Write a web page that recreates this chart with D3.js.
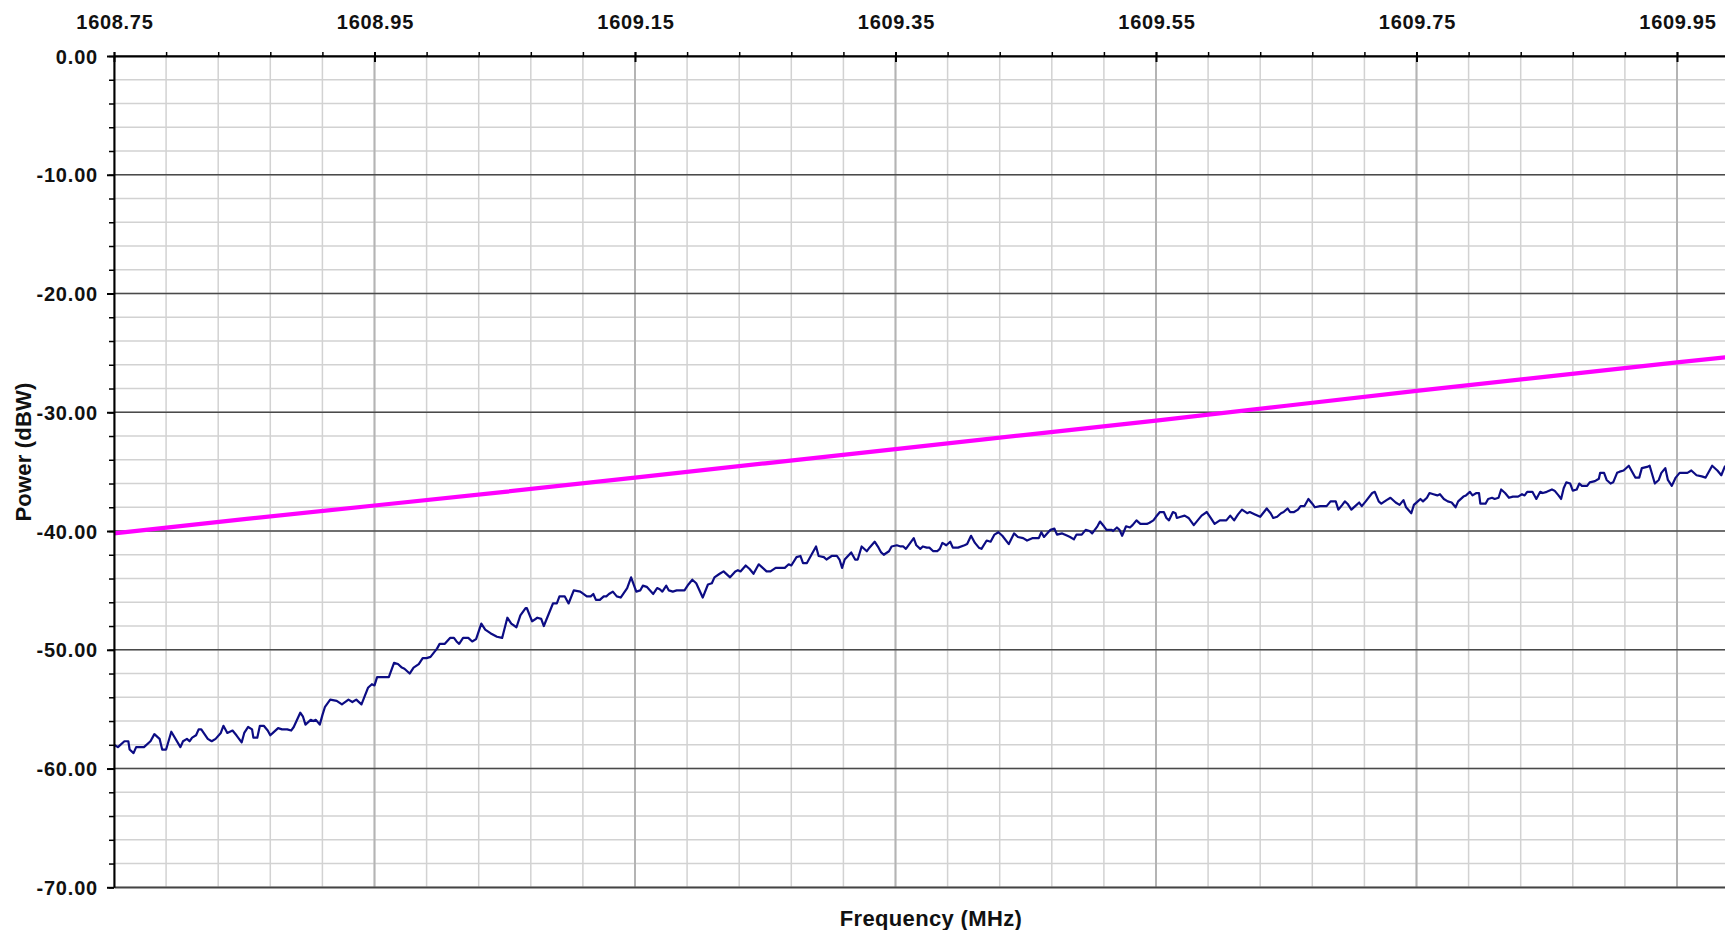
<!DOCTYPE html>
<html>
<head>
<meta charset="utf-8">
<script src="https://cdn.jsdelivr.net/npm/d3@7"></script>
<style>
  body { margin: 0; background: #fff; }
  svg text { font-family: "Liberation Sans", Arial, sans-serif; font-weight: bold; fill: #111; }
</style>
</head>
<body>
<div id="dataViz"></div>
<script>
//DATA
const xTickValues = [1608.75, 1608.95, 1609.15, 1609.35, 1609.55, 1609.75, 1609.95];
const xTickLabels = ["1608.75", "1608.95", "1609.15", "1609.35", "1609.55", "1609.75", "1609.95"];
const yTickValues = [0, -10, -20, -30, -40, -50, -60, -70];
const yTickLabels = ["0.00", "-10.00", "-20.00", "-30.00", "-40.00", "-50.00", "-60.00", "-70.00"];

// limit line (magenta), [MHz, dBW]
const limitPoints = [
  [1608.75, -40.2], [1608.85, -39.0], [1608.95, -37.85], [1609.05, -36.7],
  [1609.15, -35.5], [1609.25, -34.3], [1609.35, -33.1], [1609.45, -31.9],
  [1609.55, -30.7], [1609.65, -29.45], [1609.75, -28.2], [1609.85, -27.0],
  [1609.95, -25.8], [1609.99, -25.35]
];

// measured spectrum (navy), [MHz, dBW]
const tracePoints = [
  [1608.750, -58.0], [1608.753, -58.2], [1608.758, -57.7], [1608.761, -57.7], [1608.762, -58.4],
  [1608.765, -58.7], [1608.767, -58.2], [1608.773, -58.2], [1608.778, -57.7], [1608.781, -57.1],
  [1608.785, -57.5], [1608.787, -58.4], [1608.790, -58.4], [1608.794, -56.9], [1608.801, -58.2],
  [1608.803, -57.7], [1608.806, -57.5], [1608.808, -57.7], [1608.810, -57.4], [1608.813, -57.2],
  [1608.815, -56.7], [1608.817, -56.7], [1608.822, -57.5], [1608.825, -57.7], [1608.828, -57.5],
  [1608.832, -57.0], [1608.834, -56.4], [1608.837, -57.0], [1608.841, -56.8], [1608.844, -57.2],
  [1608.848, -57.8], [1608.850, -57.0], [1608.853, -56.5], [1608.856, -56.7], [1608.857, -57.4],
  [1608.860, -57.4], [1608.862, -56.4], [1608.865, -56.4], [1608.868, -56.8], [1608.870, -57.2],
  [1608.872, -57.0], [1608.876, -56.6], [1608.879, -56.7], [1608.883, -56.7], [1608.886, -56.8],
  [1608.888, -56.5], [1608.893, -55.3], [1608.895, -55.6], [1608.897, -56.3], [1608.901, -55.9],
  [1608.903, -56.0], [1608.905, -55.9], [1608.908, -56.3], [1608.910, -55.5], [1608.912, -54.8],
  [1608.916, -54.2], [1608.921, -54.3], [1608.925, -54.6], [1608.930, -54.2], [1608.933, -54.4],
  [1608.936, -54.2], [1608.940, -54.6], [1608.945, -53.2], [1608.948, -52.9], [1608.950, -53.0],
  [1608.952, -52.3], [1608.961, -52.3], [1608.965, -51.1], [1608.968, -51.2], [1608.971, -51.5],
  [1608.973, -51.6], [1608.977, -52.0], [1608.980, -51.5], [1608.984, -51.2], [1608.987, -50.7],
  [1608.990, -50.7], [1608.993, -50.6],
  [1608.998, -49.9], [1609.000, -49.5], [1609.004, -49.5], [1609.008, -49.0], [1609.011, -49.0],
  [1609.013, -49.3], [1609.015, -49.5], [1609.018, -49.0], [1609.022, -49.0], [1609.025, -49.3],
  [1609.028, -49.1], [1609.032, -47.8], [1609.035, -48.3], [1609.039, -48.6], [1609.044, -48.9],
  [1609.048, -49.0], [1609.052, -47.3], [1609.055, -47.8], [1609.059, -48.1], [1609.062, -47.1],
  [1609.066, -46.5], [1609.067, -46.5], [1609.071, -47.6], [1609.075, -47.3], [1609.078, -47.4],
  [1609.080, -48.0], [1609.087, -46.1], [1609.090, -46.1], [1609.092, -45.5], [1609.096, -45.5],
  [1609.099, -46.1], [1609.103, -45.0], [1609.108, -45.1], [1609.113, -45.5], [1609.116, -45.5],
  [1609.118, -45.3], [1609.120, -45.8], [1609.123, -45.8], [1609.126, -45.5], [1609.128, -45.5],
  [1609.130, -45.3], [1609.133, -45.1], [1609.136, -45.5], [1609.139, -45.6], [1609.144, -44.8],
  [1609.147, -43.9], [1609.151, -45.1], [1609.154, -45.0], [1609.156, -44.6], [1609.159, -44.7],
  [1609.164, -45.3], [1609.167, -44.8], [1609.169, -44.9], [1609.171, -45.1], [1609.174, -44.6],
  [1609.176, -45.0], [1609.179, -45.1], [1609.182, -45.0], [1609.188, -45.0], [1609.191, -44.5],
  [1609.194, -44.1], [1609.197, -44.4], [1609.202, -45.6], [1609.206, -44.5], [1609.209, -44.4],
  [1609.211, -43.9], [1609.215, -43.6], [1609.218, -43.4], [1609.223, -43.9], [1609.227, -43.4],
  [1609.229, -43.3], [1609.231, -43.4], [1609.235, -42.9], [1609.238, -43.2],
  [1609.241, -43.6], [1609.245, -42.8], [1609.247, -43.0], [1609.251, -43.4], [1609.254, -43.4],
  [1609.258, -43.1], [1609.265, -43.1], [1609.268, -42.8], [1609.270, -42.9], [1609.274, -42.2],
  [1609.277, -42.1], [1609.279, -42.7], [1609.282, -42.7], [1609.286, -41.9], [1609.289, -41.3],
  [1609.291, -42.1], [1609.295, -42.2], [1609.297, -42.4], [1609.301, -42.1], [1609.305, -42.1],
  [1609.307, -42.4], [1609.309, -43.1], [1609.311, -42.4], [1609.316, -41.8], [1609.319, -42.4],
  [1609.321, -42.4], [1609.324, -41.3], [1609.328, -41.7], [1609.330, -41.4], [1609.334, -40.9],
  [1609.337, -41.4], [1609.339, -41.8], [1609.341, -42.0], [1609.345, -41.7], [1609.347, -41.3],
  [1609.351, -41.2], [1609.354, -41.3], [1609.356, -41.3], [1609.358, -41.5], [1609.364, -40.6],
  [1609.366, -41.2], [1609.369, -41.5], [1609.371, -41.3], [1609.374, -41.4], [1609.376, -41.4],
  [1609.379, -41.7], [1609.382, -41.7], [1609.384, -41.5], [1609.386, -41.0], [1609.389, -41.2],
  [1609.392, -40.9], [1609.394, -41.4], [1609.398, -41.4], [1609.403, -41.2], [1609.405, -41.1],
  [1609.408, -40.4], [1609.411, -41.0], [1609.414, -41.4], [1609.416, -41.5], [1609.420, -40.8],
  [1609.423, -40.9], [1609.426, -40.3], [1609.429, -40.1], [1609.432, -40.4], [1609.437, -41.1],
  [1609.441, -40.2], [1609.444, -40.5], [1609.448, -40.6], [1609.451, -40.8], [1609.455, -40.6],
  [1609.460, -40.6], [1609.462, -40.1], [1609.464, -40.5], [1609.469, -39.9], [1609.472, -39.8],
  [1609.474, -40.3], [1609.478, -40.2], [1609.482, -40.4], [1609.484, -40.5],
  [1609.487, -40.7], [1609.489, -40.3], [1609.493, -40.3], [1609.496, -39.9], [1609.499, -40.0],
  [1609.501, -40.2], [1609.505, -39.6], [1609.507, -39.2], [1609.510, -39.6], [1609.512, -39.9],
  [1609.516, -39.9], [1609.517, -40.0], [1609.520, -39.7], [1609.522, -39.9], [1609.524, -40.4],
  [1609.527, -39.6], [1609.530, -39.7], [1609.532, -39.5], [1609.535, -39.1], [1609.538, -39.4],
  [1609.540, -39.4], [1609.543, -39.4], [1609.545, -39.3], [1609.548, -39.1], [1609.550, -38.8],
  [1609.553, -38.4], [1609.556, -38.4], [1609.558, -38.9], [1609.560, -39.1], [1609.563, -38.4],
  [1609.565, -38.5], [1609.566, -38.9], [1609.569, -38.8], [1609.572, -38.7], [1609.575, -38.9],
  [1609.579, -39.5], [1609.582, -39.1], [1609.585, -38.7], [1609.589, -38.4], [1609.592, -38.9],
  [1609.595, -39.4], [1609.599, -39.1], [1609.604, -39.1], [1609.607, -38.7], [1609.610, -39.1],
  [1609.613, -38.6], [1609.616, -38.2], [1609.620, -38.5], [1609.622, -38.4], [1609.626, -38.6],
  [1609.630, -38.8], [1609.635, -38.1], [1609.638, -38.5], [1609.640, -38.9], [1609.643, -38.8],
  [1609.646, -38.5], [1609.648, -38.4], [1609.651, -38.1], [1609.653, -38.4], [1609.656, -38.4],
  [1609.659, -38.2], [1609.661, -37.9], [1609.664, -37.9], [1609.667, -37.3], [1609.670, -37.7],
  [1609.672, -38.0], [1609.676, -37.9], [1609.681, -37.9], [1609.684, -37.5], [1609.688, -37.5],
  [1609.690, -38.2], [1609.693, -37.8], [1609.695, -37.5], [1609.697, -37.7], [1609.700, -38.2],
  [1609.704, -37.8], [1609.706, -37.6], [1609.708, -37.9], [1609.711, -37.5], [1609.716, -36.8],
  [1609.718, -36.7], [1609.721, -37.5], [1609.723, -37.7], [1609.727, -37.4], [1609.730, -37.2],
  [1609.734, -37.6], [1609.737, -37.8],
  [1609.740, -37.4], [1609.742, -38.0], [1609.746, -38.5], [1609.748, -37.8], [1609.751, -37.5],
  [1609.753, -37.3], [1609.755, -37.5], [1609.758, -37.2], [1609.760, -36.8], [1609.763, -36.9],
  [1609.766, -37.0], [1609.768, -36.9], [1609.771, -37.3], [1609.774, -37.5], [1609.777, -37.6],
  [1609.780, -38.0], [1609.782, -37.5], [1609.786, -37.1], [1609.788, -37.0], [1609.791, -36.7],
  [1609.793, -37.0], [1609.796, -36.8], [1609.798, -36.8], [1609.799, -37.7], [1609.803, -37.7],
  [1609.805, -37.3], [1609.808, -37.2], [1609.810, -37.3], [1609.813, -37.2], [1609.815, -36.5],
  [1609.818, -36.8], [1609.821, -37.2], [1609.824, -37.1], [1609.828, -37.1], [1609.831, -36.9],
  [1609.833, -37.0], [1609.835, -36.7], [1609.839, -36.7], [1609.842, -37.3], [1609.845, -36.7],
  [1609.847, -36.8], [1609.850, -36.7], [1609.854, -36.5], [1609.856, -36.6], [1609.859, -37.0],
  [1609.861, -37.3], [1609.863, -36.4], [1609.865, -35.9], [1609.868, -36.0], [1609.870, -36.6],
  [1609.873, -36.5], [1609.875, -36.0], [1609.877, -36.2], [1609.881, -36.2], [1609.883, -35.9],
  [1609.887, -35.8], [1609.890, -35.6], [1609.891, -35.1], [1609.894, -35.1], [1609.896, -35.7],
  [1609.899, -36.0], [1609.901, -35.9], [1609.904, -35.1], [1609.906, -35.0], [1609.909, -34.9],
  [1609.913, -34.5], [1609.915, -34.9], [1609.918, -35.5], [1609.921, -35.5], [1609.923, -34.7],
  [1609.927, -34.6], [1609.929, -34.5], [1609.933, -36.0], [1609.936, -35.7], [1609.938, -35.1],
  [1609.941, -34.7], [1609.943, -35.7], [1609.946, -36.2], [1609.949, -35.5], [1609.952, -35.1],
  [1609.956, -35.1], [1609.958, -35.1], [1609.961, -34.9], [1609.965, -35.3], [1609.969, -35.4],
  [1609.972, -35.5], [1609.977, -34.5], [1609.981, -34.9], [1609.984, -35.3], [1609.987, -34.5]
];

//DIMENSIONS
let WIDTH = 1725,
  HEIGHT = 930,
  MARGIN = { top: 56, right: 0, bottom: 43, left: 114 };
let plotW = WIDTH - MARGIN.left,
  plotH = 831.3,
  PX_PER_MHZ = 1302.5;

//SVG
let svg = d3
  .select("#dataViz")
  .append("svg")
  .attr("width", WIDTH)
  .attr("height", HEIGHT)
  .append("g")
  .attr("transform", `translate(${MARGIN.left}, ${MARGIN.top})`);

//SCALES
let xScale = d3
  .scaleLinear()
  .domain([1608.75, 1608.75 + plotW / PX_PER_MHZ])
  .range([0, plotW]);
let yScale = d3.scaleLinear().domain([-70, 0]).range([plotH, 0]);

// minor steps: 0.04 MHz and 2 dB
let xMinor = d3.range(0, 31).map((i) => 1608.75 + i * 0.04);
let yMinor = d3.range(-70, 1, 2);

//GRID
let grid = svg.append("g");
grid
  .selectAll(".xminor")
  .data(xMinor)
  .enter()
  .append("line")
  .attr("x1", (d) => xScale(d))
  .attr("x2", (d) => xScale(d))
  .attr("y1", 0)
  .attr("y2", plotH)
  .attr("stroke", "#d2d2d2")
  .attr("stroke-width", 1.5);
grid
  .selectAll(".yminor")
  .data(yMinor)
  .enter()
  .append("line")
  .attr("x1", 0)
  .attr("x2", plotW)
  .attr("y1", (d) => yScale(d))
  .attr("y2", (d) => yScale(d))
  .attr("stroke", "#d2d2d2")
  .attr("stroke-width", 1.5);
grid
  .selectAll(".xmajor")
  .data(xTickValues)
  .enter()
  .append("line")
  .attr("x1", (d) => xScale(d))
  .attr("x2", (d) => xScale(d))
  .attr("y1", 0)
  .attr("y2", plotH)
  .attr("stroke", "#b4b4b4")
  .attr("stroke-width", 2);
grid
  .selectAll(".ymajor")
  .data(yTickValues)
  .enter()
  .append("line")
  .attr("x1", 0)
  .attr("x2", plotW)
  .attr("y1", (d) => yScale(d))
  .attr("y2", (d) => yScale(d))
  .attr("stroke", "#4a4a4a")
  .attr("stroke-width", 1.5);

//LINES
svg
  .append("path")
  .datum(limitPoints)
  .attr("d", d3.line().x((d) => xScale(d[0])).y((d) => yScale(d[1])))
  .attr("fill", "none")
  .attr("stroke", "#ff00ff")
  .attr("stroke-width", 4.2);

svg
  .append("path")
  .datum(tracePoints)
  .attr("d", d3.line().x((d) => xScale(d[0])).y((d) => yScale(d[1])))
  .attr("fill", "none")
  .attr("stroke", "#0c0c84")
  .attr("stroke-width", 2.2)
  .attr("stroke-linejoin", "round");

//AXES
// bottom frame line
svg
  .append("g")
  .attr("transform", `translate(0,${plotH})`)
  .call(d3.axisBottom(xScale).tickValues([]).tickSizeOuter(0))
  .select(".domain")
  .attr("stroke", "#444")
  .attr("stroke-width", 1.5);

// top axis: minor ticks, major ticks crossing the line, labels
svg
  .append("g")
  .call(d3.axisTop(xScale).tickValues(xMinor).tickSize(4).tickFormat("").tickSizeOuter(0))
  .call((g) => g.select(".domain").attr("stroke", "#000").attr("stroke-width", 2))
  .call((g) => g.selectAll(".tick line").attr("stroke", "#000").attr("stroke-width", 1.5));
svg
  .append("g")
  .call(d3.axisBottom(xScale).tickValues(xTickValues).tickSize(6).tickFormat("").tickSizeOuter(0))
  .call((g) => g.select(".domain").remove())
  .call((g) => g.selectAll(".tick line").attr("stroke", "#000").attr("stroke-width", 2));
svg
  .append("g")
  .call(
    d3
      .axisTop(xScale)
      .tickValues(xTickValues)
      .tickSize(4)
      .tickPadding(22.7)
      .tickFormat((d, i) => xTickLabels[i])
  )
  .call((g) => g.select(".domain").remove())
  .call((g) => g.selectAll(".tick line").attr("stroke", "#000").attr("stroke-width", 2))
  .call((g) =>
    g
      .selectAll("text")
      .attr("fill", "#111")
      .style("font-size", "20px")
      .style("letter-spacing", "0.7px")
      .attr("dx", "0.4px")
  );

// left axis
svg
  .append("g")
  .call(d3.axisLeft(yScale).tickValues(yMinor).tickSize(5).tickFormat("").tickSizeOuter(0))
  .call((g) => g.select(".domain").attr("stroke", "#000").attr("stroke-width", 2))
  .call((g) => g.selectAll(".tick line").attr("stroke", "#000").attr("stroke-width", 1.5));
svg
  .append("g")
  .call(
    d3
      .axisLeft(yScale)
      .tickValues(yTickValues)
      .tickSize(7)
      .tickPadding(9)
      .tickFormat((d, i) => yTickLabels[i])
  )
  .call((g) => g.select(".domain").remove())
  .call((g) => g.selectAll(".tick line").attr("stroke", "#000").attr("stroke-width", 2))
  .call((g) =>
    g
      .selectAll("text")
      .attr("fill", "#111")
      .attr("dy", "0.36em")
      .style("font-size", "20px")
      .style("letter-spacing", "0.8px")
  );

//TITLES
svg
  .append("text")
  .attr("x", 931 - MARGIN.left)
  .attr("y", 926 - MARGIN.top)
  .attr("text-anchor", "middle")
  .style("font-size", "22px")
  .style("letter-spacing", "0.35px")
  .text("Frequency (MHz)");

svg
  .append("text")
  .attr("transform", `translate(${31 - MARGIN.left},${452 - MARGIN.top}) rotate(-90)`)
  .attr("text-anchor", "middle")
  .style("font-size", "22px")
  .style("letter-spacing", "0.2px")
  .text("Power (dBW)");
</script>
</body>
</html>
